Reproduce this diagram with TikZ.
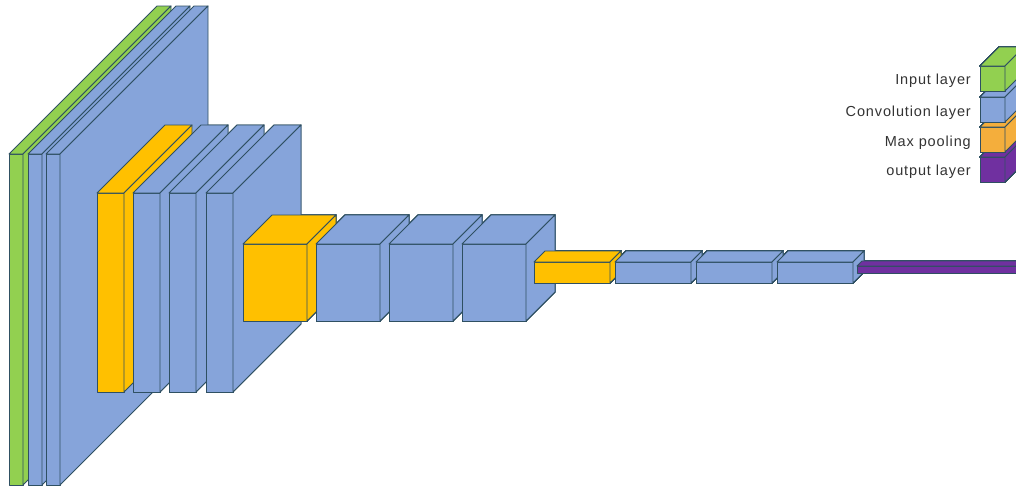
\documentclass[tikz,border=0pt]{standalone}
\usepackage{fontspec}
\setmainfont[LetterSpace=6]{Liberation Sans}
\usetikzlibrary{positioning}

\definecolor{inputgreen}{HTML}{92D050}
\definecolor{convblue}{HTML}{86A4DA}
\definecolor{poolyellow}{HTML}{FFC000}
\definecolor{poolorange}{HTML}{F4AE3C}
\definecolor{outpurple}{HTML}{7030A0}
\definecolor{edgeslate}{HTML}{2F5062}

% x y w h depth colour (y grows downwards)
\newcommand{\layercube}[6]{%
  \filldraw[block, fill=#6] (#1,#2) rectangle ++(#3,#4);
  \filldraw[block, fill=#6] (#1,#2) -- ++(#5,-#5) -- ++(#3,0) -- ++(-#5,#5) -- cycle;
  \filldraw[block, fill=#6] (#1+#3,#2) -- ++(#5,-#5) -- ++(0,#4) -- ++(-#5,#5) -- cycle;
}

\begin{document}
\begin{tikzpicture}[x=1pt, y=-1pt]
\tikzstyle{block}=[draw=edgeslate, line width=0.9pt, line join=round]
\tikzstyle{legend}=[font=\fontsize{14.5}{16}\selectfont, text=black!80, inner sep=0pt, node distance=9pt]
  \useasboundingbox (0,0) rectangle (1016,488);
  \clip (0,0) rectangle (1016,488);
  % first stage
  \layercube{9}{154}{14}{331}{148}{inputgreen}
  \foreach \x in {28,46}
    \layercube{\x}{154}{14}{331}{148}{convblue}
  % second stage
  \layercube{97}{193}{27}{199}{68}{poolyellow}
  \foreach \x in {133,169,206}
    \layercube{\x}{193}{27}{199}{68}{convblue}
  % third stage
  \layercube{243}{244}{64}{77}{29}{poolyellow}
  \foreach \x in {316,389,462}
    \layercube{\x}{244}{64}{77}{29}{convblue}
  % fourth stage
  \layercube{534}{262}{76}{21}{11}{poolyellow}
  \foreach \x in {615,696,777}
    \layercube{\x}{262}{76}{21}{11}{convblue}
  % output
  \layercube{857}{266}{180}{7}{5}{outpurple}
  % legend
  \layercube{980}{157}{25}{25}{19}{outpurple}
  \layercube{980}{127}{25}{25}{19}{poolorange}
  \layercube{980}{97}{25}{25}{19}{convblue}
  \layercube{980}{66}{25}{25}{19}{inputgreen}
  \coordinate (kin) at (980,80.5);
  \coordinate (kconv) at (980,112.5);
  \coordinate (kpool) at (980,142.5);
  \coordinate (kout) at (980,172);
  \node[legend, left=of kin] (lin) {Input layer};
  \node[legend, left=of kconv] (lconv) {Convolution layer};
  \node[legend, left=of kpool] (lpool) {Max pooling};
  \node[legend, left=of kout] (lout) {output layer};
\end{tikzpicture}
\end{document}
